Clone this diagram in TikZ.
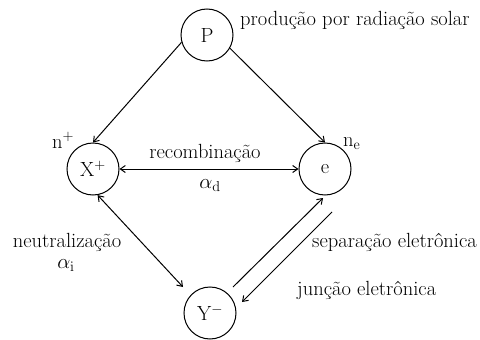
\documentclass[tikz,border=0pt]{standalone}
\usetikzlibrary{arrows.meta,calc}
\begin{document}
\begin{tikzpicture}[x=1pt,y=-1pt,
  font=\fontsize{20.5}{24}\selectfont,
  circ/.style={draw, circle, minimum size=52pt, inner sep=0pt, line width=1pt},
  lbl/.style={inner sep=0pt},
  arr/.style={line width=1pt, -{Straight Barb[length=5pt,width=7pt]}},
  darr/.style={line width=1pt, {Straight Barb[length=5pt,width=7pt]}-{Straight Barb[length=5pt,width=7pt]}}]
\useasboundingbox (0,0) rectangle (480,340);
\node[circ] (P) at (207,35) {P};
\node[circ] (X) at (93,169) {X$^{+}$};
\node[circ] (e) at (325,169) {e};
\node[circ] (Y) at (210,313) {Y$^{-}$};

\node[lbl, anchor=base west] (tP) at (240,26) {produção por radiação solar};
\node[lbl, anchor=base west] (nplus) at (52,148) {n$^{+}$};
\node[lbl, anchor=base west] (ne) at (343,146) {n$_{\mathrm{e}}$};
\node[lbl, anchor=base] (trec) at (205,158) {recombinação};
\node[lbl, anchor=base] (ad) at (210,188) {$\alpha_{\mathrm{d}}$};
\node[lbl, anchor=base] (tneu) at (67,247) {neutralização};
\node[lbl, anchor=base] (ai) at (66,268) {$\alpha_{\mathrm{i}}$};
\node[lbl, anchor=base west] (tsep) at (312,247) {separação eletrônica};
\node[lbl, anchor=base west] (tjun) at (297,295) {junção eletrônica};

\draw[arr] (P.196) -- (X.north);
\draw[arr] (P.-30) -- (e.north);
\draw[darr] (X.east) -- (e.west);
\draw[darr] (X.-80) -- ($(Y.center)+(-27,-26)$);
\draw[arr] ($(Y.center)+(23,-26)$) -- ($(e.center)+(-2,29)$);
\draw[arr] ($(e.center)+(7,43)$) -- ($(Y.center)+(32,-11)$);
\end{tikzpicture}
\end{document}
